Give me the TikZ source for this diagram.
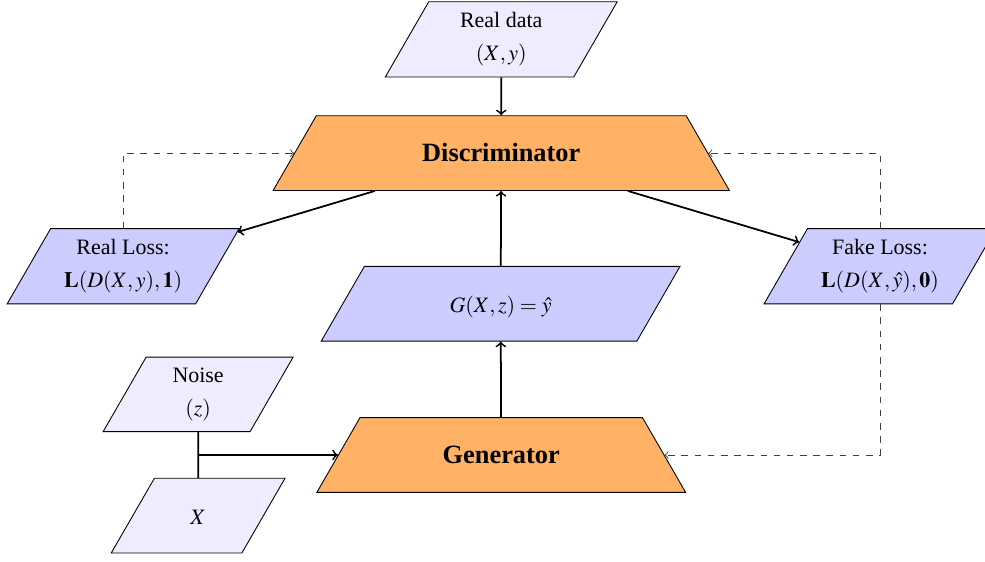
\documentclass[tikz,border=0pt]{standalone}
\usepackage{amsmath}
\usepackage{amssymb}
\usepackage{mathptmx}
\usepackage{fontspec}
\setmainfont{Liberation Serif}
\usepackage{tikz}
\usepackage{xcolor}
\usetikzlibrary{shapes, positioning}

\begin{document}
\begin{tikzpicture}[
        inbox/.style={trapezium, trapezium left angle=60, trapezium right angle=120, trapezium stretches body, draw, fill=blue!7, inner ysep=4.9pt, align=center},
        lossbox/.style={inbox, fill=blue!20},
        oneline/.style={text height=8pt, text depth=0pt, inner ysep=13pt},
        netbox/.style={trapezium, trapezium left angle=60, trapezium right angle=60, trapezium stretches body, draw, fill=orange!60, oneline, font=\large\bfseries},
        flow/.style={->, thick},
        back/.style={->, dashed, black!75}
    ]
                \useasboundingbox (0, 0) rectangle (15.76, -8.976);

                \node[inbox, minimum width=3.71cm] (real) at (8.02, -0.63) {Real data\\[3pt] $(X, y)$};
                \node[netbox, minimum width=7.3cm] (D) at (8.02, -2.45) {Discriminator};
                \node[lossbox, minimum width=3.71cm] (rloss) at (1.97, -4.26) {Real Loss:\\[3pt] $\mathbf{L}(D(X, y), \mathbf{1})$};
                \node[lossbox, minimum width=3.71cm] (floss) at (14.08, -4.26) {Fake Loss:\\[3pt] $\mathbf{L}(D(X, \hat{y}), \mathbf{0})$};
                \node[lossbox, oneline, minimum width=5.74cm] (yhat) at (8.01, -4.86) {$G(X, z) = \hat{y}$};
                \node[netbox, minimum width=5.9cm] (G) at (8.02, -7.28) {Generator};
                \node[inbox, minimum width=3.04cm] (noise) at (3.17, -6.31) {Noise\\[3pt] $(z)$};
                \node[inbox, oneline, minimum width=2.78cm] (X) at (3.17, -8.25) {$X$};

                \draw[flow] (real) -- (D);
                \draw[flow] (D) -- (rloss);
                \draw[flow] (D) -- (floss);
                \draw[flow] (yhat) -- (D);
                \draw[flow] (G) -- (yhat);
                \draw[thick] (noise.south) -- coordinate (join) (X.north);
                \draw[flow] (join) -- (G.west);

                \draw[back] (rloss.north) |- (D.west);
                \draw[back] (floss.north) |- (D.east);
                \draw[back] (floss.south) |- (G.east);
            \end{tikzpicture}
\end{document}
